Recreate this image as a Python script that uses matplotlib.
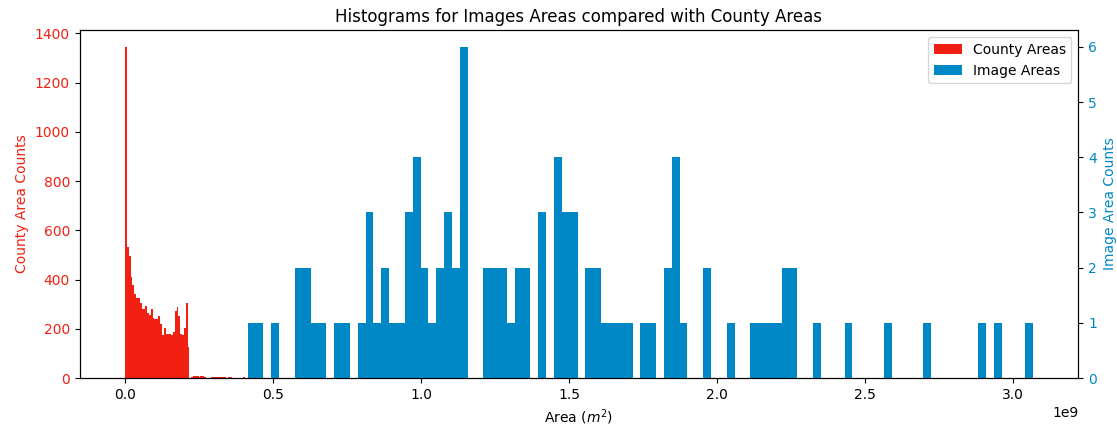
import numpy as np
import matplotlib
matplotlib.use("Agg")
import matplotlib.pyplot as plt

# county area histogram (bin counts, equal-width bins starting at 0)
county_lo, county_hi = 0.0, 0.41e9
county_counts = [1345, 533, 495, 410, 377, 340, 326, 326, 303, 279, 279, 292,
                 262, 256, 279, 242, 238, 238, 250, 218, 175, 202, 179, 179,
                 179, 173, 188, 273, 287, 250, 179, 173, 202, 306, 127,
                 0, 3, 8, 8, 8, 6, 8, 8, 4, 0, 0, 0, 3, 6, 6, 6, 6, 6, 4,
                 4, 0, 5, 5, 0, 0, 0, 0, 0, 0, 4, 0]

# image area histogram (100 equal-width bins)
image_lo, image_hi = 0.4145e9, 3.0666e9
image_counts = [1, 1, 0, 1, 0, 0, 2, 2, 1, 1, 0, 1, 1, 0, 1, 3, 1, 2, 1, 1,
                3, 4, 2, 1, 2, 3, 2, 6, 0, 0, 2, 2, 2, 1, 2, 2, 0, 3, 0, 4,
                3, 3, 0, 2, 2, 1, 1, 1, 1, 0, 1, 1, 0, 2, 4, 1, 0, 0, 2, 0,
                0, 1, 0, 0, 1, 1, 1, 1, 2, 2, 0, 0, 1, 0, 0, 0, 1, 0, 0, 0,
                0, 1, 0, 0, 0, 0, 1, 0, 0, 0, 0, 0, 0, 1, 0, 1, 0, 0, 0, 1]

red = '#f22012'
blue = '#0088c6'

county_edges = np.linspace(county_lo, county_hi, len(county_counts) + 1)
image_edges = np.linspace(image_lo, image_hi, len(image_counts) + 1)

fig, ax1 = plt.subplots(figsize=(11.17, 4.32), dpi=100)
fig.subplots_adjust(left=0.0713, right=0.9654, bottom=0.125, top=0.93)

ax1.hist(county_edges[:-1], bins=county_edges, weights=county_counts,
         color=red, label='County Areas')
ax1.set_ylabel('County Area Counts', color=red)
ax1.tick_params(axis='y', labelcolor=red)
ax1.set_xlabel('Area ($m^2$)')

ax2 = ax1.twinx()
ax2.hist(image_edges[:-1], bins=image_edges, weights=image_counts,
         color=blue, label='Image Areas')
ax2.set_ylabel('Image Area Counts', color=blue)
ax2.tick_params(axis='y', labelcolor=blue)

h1, l1 = ax1.get_legend_handles_labels()
h2, l2 = ax2.get_legend_handles_labels()
ax2.legend(h1 + h2, l1 + l2, loc='upper right')

plt.title('Histograms for Images Areas compared with County Areas')
plt.savefig('out.png')
